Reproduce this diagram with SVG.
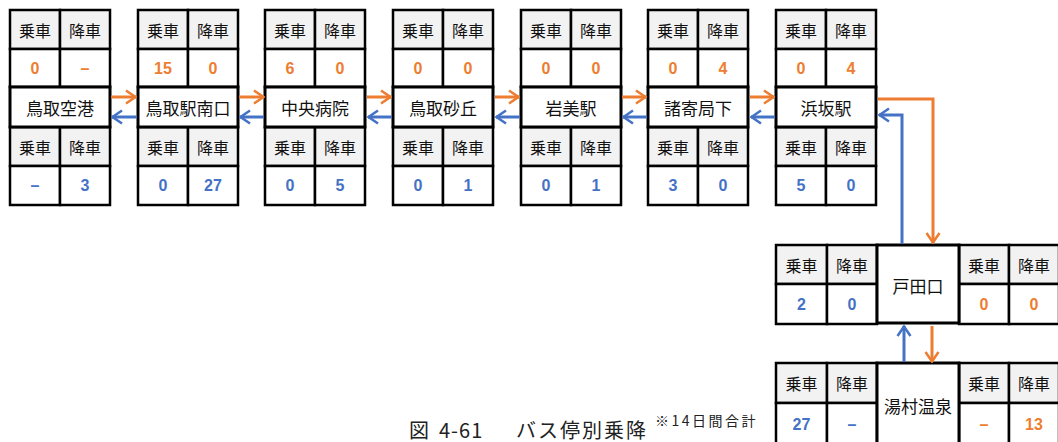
<svg xmlns="http://www.w3.org/2000/svg" width="1058" height="442" viewBox="0 0 1058 442">
<style>
text{font-family:"Noto Sans CJK JP","Noto Sans",sans-serif;text-anchor:middle;dominant-baseline:central}
.hd{fill:#f2f2f2;stroke:#000;stroke-width:2.5}
.cell{fill:#fff;stroke:#000;stroke-width:2.5}
.st{fill:#fff;stroke:#000;stroke-width:3}
.h{font-size:16px;fill:#111}
.n{font-size:17px;fill:#111}
.o{font-size:16px;font-weight:bold;fill:#ED7D31;font-family:"Liberation Sans",Arial,sans-serif}
.b{font-size:16px;font-weight:bold;fill:#4472C4;font-family:"Liberation Sans",Arial,sans-serif}
.ao{fill:none;stroke:#ED7D31;stroke-width:3}
.ab{fill:none;stroke:#4472C4;stroke-width:3}
.cap{text-anchor:start;font-size:20px;fill:#222}
</style>
<defs>
<marker id="mo" viewBox="0 0 12 16" refX="11" refY="8" markerWidth="12" markerHeight="16" markerUnits="userSpaceOnUse" orient="auto"><path d="M1,1.5 L10.5,8 L1,14.5" fill="none" stroke="#ED7D31" stroke-width="2.5"/></marker>
<marker id="mb" viewBox="0 0 12 16" refX="11" refY="8" markerWidth="12" markerHeight="16" markerUnits="userSpaceOnUse" orient="auto"><path d="M1,1.5 L10.5,8 L1,14.5" fill="none" stroke="#4472C4" stroke-width="2.5"/></marker>
<g id="col">
<rect class="hd" x="0" y="0" width="50" height="39"/>
<rect class="hd" x="50" y="0" width="50" height="39"/>
<rect class="cell" x="0" y="39" width="50" height="38"/>
<rect class="cell" x="50" y="39" width="50" height="38"/>
<rect class="hd" x="0" y="117" width="50" height="39"/>
<rect class="hd" x="50" y="117" width="50" height="39"/>
<rect class="cell" x="0" y="156" width="50" height="39"/>
<rect class="cell" x="50" y="156" width="50" height="39"/>
<rect class="st" x="0" y="77" width="100" height="40"/>
<text class="h" x="25" y="19.5">乗車</text>
<text class="h" x="75" y="19.5">降車</text>
<text class="h" x="25" y="136.5">乗車</text>
<text class="h" x="75" y="136.5">降車</text>
</g>
</defs>

<g id="tottori-airport" transform="translate(10,10)">
<use href="#col"/>
<text class="n" x="50" y="97">鳥取空港</text>
<text class="o" x="25" y="58">0</text><text class="o" x="75" y="58">–</text>
<text class="b" x="25" y="175.5">–</text><text class="b" x="75" y="175.5">3</text>
</g>
<g id="tottori-station-south" transform="translate(138,10)">
<use href="#col"/>
<text class="n" x="50" y="97">鳥取駅南口</text>
<text class="o" x="25" y="58">15</text><text class="o" x="75" y="58">0</text>
<text class="b" x="25" y="175.5">0</text><text class="b" x="75" y="175.5">27</text>
</g>
<g id="chuo-hospital" transform="translate(265,10)">
<use href="#col"/>
<text class="n" x="50" y="97">中央病院</text>
<text class="o" x="25" y="58">6</text><text class="o" x="75" y="58">0</text>
<text class="b" x="25" y="175.5">0</text><text class="b" x="75" y="175.5">5</text>
</g>
<g id="tottori-sakyu" transform="translate(393,10)">
<use href="#col"/>
<text class="n" x="50" y="97">鳥取砂丘</text>
<text class="o" x="25" y="58">0</text><text class="o" x="75" y="58">0</text>
<text class="b" x="25" y="175.5">0</text><text class="b" x="75" y="175.5">1</text>
</g>
<g id="iwami-station" transform="translate(521,10)">
<use href="#col"/>
<text class="n" x="50" y="97">岩美駅</text>
<text class="o" x="25" y="58">0</text><text class="o" x="75" y="58">0</text>
<text class="b" x="25" y="175.5">0</text><text class="b" x="75" y="175.5">1</text>
</g>
<g id="moroyose" transform="translate(648,10)">
<use href="#col"/>
<text class="n" x="50" y="97">諸寄局下</text>
<text class="o" x="25" y="58">0</text><text class="o" x="75" y="58">4</text>
<text class="b" x="25" y="175.5">3</text><text class="b" x="75" y="175.5">0</text>
</g>
<g id="hamasaka-station" transform="translate(776,10)">
<use href="#col"/>
<text class="n" x="50" y="97">浜坂駅</text>
<text class="o" x="25" y="58">0</text><text class="o" x="75" y="58">4</text>
<text class="b" x="25" y="175.5">5</text><text class="b" x="75" y="175.5">0</text>
</g>

<g id="todaguchi">
<rect class="hd" x="776" y="245" width="51" height="39"/>
<rect class="hd" x="827" y="245" width="50" height="39"/>
<rect class="cell" x="776" y="284" width="51" height="40"/>
<rect class="cell" x="827" y="284" width="50" height="40"/>
<rect class="hd" x="959" y="245" width="50" height="39"/>
<rect class="hd" x="1009" y="245" width="50" height="39"/>
<rect class="cell" x="959" y="284" width="50" height="40"/>
<rect class="cell" x="1009" y="284" width="50" height="40"/>
<rect class="st" x="877" y="245" width="82" height="78"/>
<text class="h" x="801.5" y="264.5">乗車</text><text class="h" x="852" y="264.5">降車</text>
<text class="h" x="984" y="264.5">乗車</text><text class="h" x="1034" y="264.5">降車</text>
<text class="b" x="801.5" y="304">2</text><text class="b" x="852" y="304">0</text>
<text class="o" x="984" y="304">0</text><text class="o" x="1034" y="304">0</text>
<text class="n" x="918" y="285">戸田口</text>
</g>
<g id="yumura-onsen">
<rect class="hd" x="776" y="363" width="51" height="40"/>
<rect class="hd" x="827" y="363" width="50" height="40"/>
<rect class="cell" x="776" y="403" width="51" height="42"/>
<rect class="cell" x="827" y="403" width="50" height="42"/>
<rect class="hd" x="959" y="363" width="50" height="40"/>
<rect class="hd" x="1009" y="363" width="50" height="40"/>
<rect class="cell" x="959" y="403" width="50" height="42"/>
<rect class="cell" x="1009" y="403" width="50" height="42"/>
<rect class="st" x="877" y="363" width="82" height="84"/>
<text class="h" x="801.5" y="383">乗車</text><text class="h" x="852" y="383">降車</text>
<text class="h" x="984" y="383">乗車</text><text class="h" x="1034" y="383">降車</text>
<text class="b" x="801.5" y="424">27</text><text class="b" x="852" y="424">–</text>
<text class="o" x="984" y="424">–</text><text class="o" x="1034" y="424">13</text>
<text class="n" x="918" y="405">湯村温泉</text>
</g>

<g id="connectors">
<path class="ao" d="M111,97 H136" marker-end="url(#mo)"/>
<path class="ao" d="M239,97 H264" marker-end="url(#mo)"/>
<path class="ao" d="M367,97 H391" marker-end="url(#mo)"/>
<path class="ao" d="M495,97 H519" marker-end="url(#mo)"/>
<path class="ao" d="M622,97 H646" marker-end="url(#mo)"/>
<path class="ao" d="M750,97 H774" marker-end="url(#mo)"/>
<path class="ab" d="M137,117 H112" marker-end="url(#mb)"/>
<path class="ab" d="M264,117 H240" marker-end="url(#mb)"/>
<path class="ab" d="M392,117 H368" marker-end="url(#mb)"/>
<path class="ab" d="M520,117 H496" marker-end="url(#mb)"/>
<path class="ab" d="M647,117 H623" marker-end="url(#mb)"/>
<path class="ab" d="M775,117 H751" marker-end="url(#mb)"/>
<path class="ao" d="M878,99 H933 V243" marker-end="url(#mo)"/>
<path class="ab" d="M902,244 V115 H879" marker-end="url(#mb)"/>
<path class="ab" d="M904,362 V326" marker-end="url(#mb)"/>
<path class="ao" d="M932,326 V362" marker-end="url(#mo)"/>
</g>

<g id="caption">
<text class="cap" x="409" y="429">図</text>
<text class="cap" x="439" y="429" style="letter-spacing:1px">4-61</text>
<text class="cap" x="516" y="429" style="letter-spacing:2px">バス停別乗降</text>
<text x="655" y="420" style="text-anchor:start;font-size:14px;fill:#222;letter-spacing:2.5px">※14日間合計</text>
</g>
</svg>
